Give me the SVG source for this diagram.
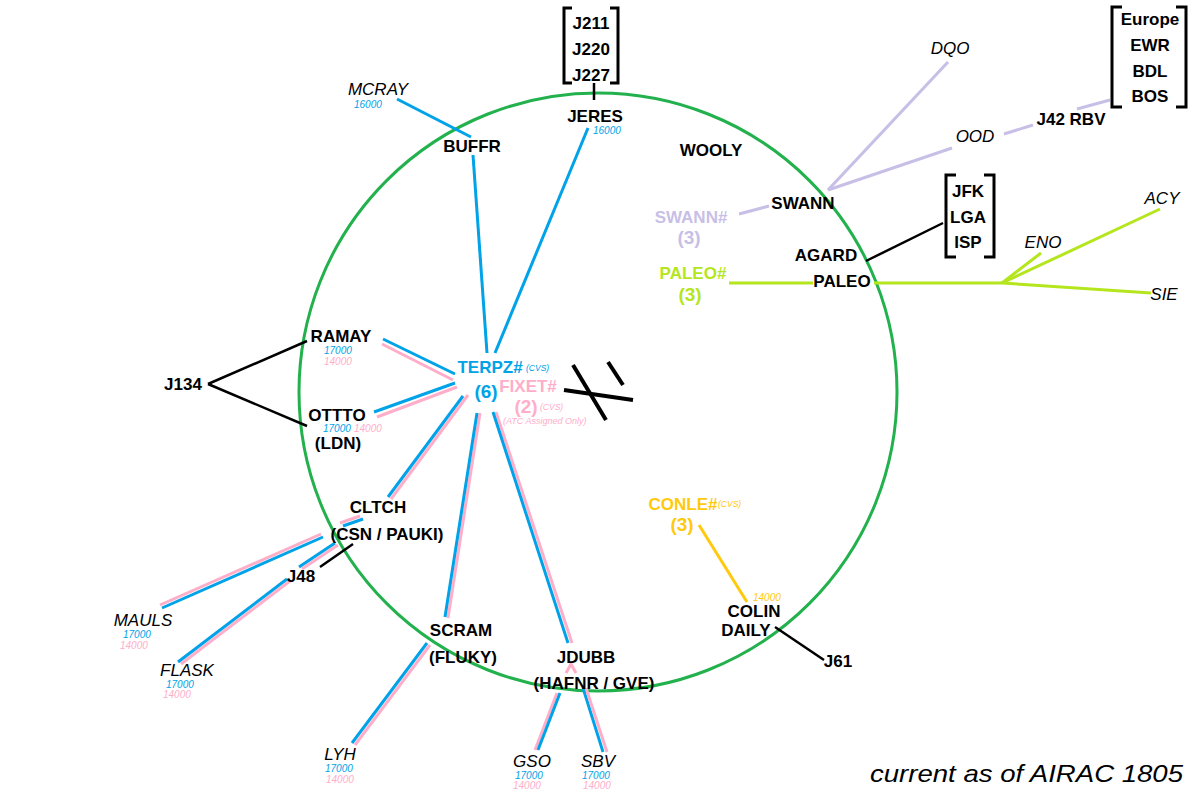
<svg xmlns="http://www.w3.org/2000/svg" width="1200" height="800" viewBox="0 0 1200 800">
<style>
text{font-family:"Liberation Sans",Arial,sans-serif}
.n{font-size:17px;font-weight:bold;fill:#000;text-anchor:middle}
.i{font-size:17px;font-style:italic;fill:#000;text-anchor:middle}
.s{font-size:10px;font-style:italic}
.sb{fill:#00a2e8}.sp{fill:#ffaec9}.sg{fill:#ffc90e}
.b{stroke:#00a2e8;stroke-width:3;fill:none}
.p{stroke:#ffaec9;stroke-width:3;fill:none}
.lv{stroke:#c8bfe7;stroke-width:3;fill:none}
.lm{stroke:#b5e61d;stroke-width:3;fill:none}
.k{stroke:#000;stroke-width:2.5;fill:none}
.br{stroke:#000;stroke-width:3;fill:none}
</style>
<rect width="1200" height="800" fill="#fff"/>
<circle id="ring" cx="598" cy="392" r="299" fill="none" stroke="#22b14c" stroke-width="3"/>
<g id="connectors">
<line class="b" x1="397" y1="99" x2="471" y2="137"/>
<line class="b" x1="473" y1="155" x2="487" y2="353"/>
<line class="b" x1="588" y1="128" x2="495" y2="353"/>
<line class="p" x1="382" y1="344" x2="453" y2="380"/>
<line class="b" x1="383" y1="339" x2="455" y2="374"/>
<line class="p" x1="377" y1="417" x2="457" y2="387"/>
<line class="b" x1="374" y1="412" x2="455" y2="383"/>
<line class="p" x1="391" y1="499" x2="468" y2="395"/>
<line class="b" x1="388" y1="497" x2="463" y2="396"/>
<line class="p" x1="448" y1="618" x2="480" y2="413"/>
<line class="b" x1="445" y1="617" x2="477" y2="413"/>
<line class="p" x1="496" y1="412" x2="572" y2="643"/>
<line class="b" x1="493" y1="412" x2="568" y2="643"/>
<line class="p" x1="160" y1="605" x2="321" y2="534"/>
<line class="b" x1="162" y1="608" x2="323" y2="537"/>
<line class="p" x1="340" y1="523" x2="360" y2="516"/>
<line class="b" x1="343" y1="526" x2="363" y2="519"/>
<line class="p" x1="181" y1="664" x2="290" y2="581"/>
<line class="b" x1="178" y1="662" x2="287" y2="579"/>
<line class="p" x1="302" y1="569" x2="338" y2="545"/>
<line class="b" x1="299" y1="567" x2="335" y2="543"/>
<line class="p" x1="355" y1="745" x2="430" y2="645"/>
<line class="b" x1="352" y1="743" x2="427" y2="643"/>
<line class="p" x1="535" y1="750" x2="557" y2="693"/>
<line class="b" x1="538" y1="750" x2="560" y2="693"/>
<polyline class="p" points="566,673 571,664 576,673"/>
<line class="b" x1="583" y1="688" x2="603" y2="752"/>
<line class="p" x1="586" y1="688" x2="607" y2="752"/>
<line class="lv" x1="948" y1="62" x2="828" y2="190"/>
<line class="lv" x1="952" y1="148" x2="828" y2="190"/>
<line class="lv" x1="1004" y1="134" x2="1033" y2="125"/>
<line class="lv" x1="1077" y1="109" x2="1110" y2="100"/>
<line class="lv" x1="739" y1="214" x2="769" y2="206"/>
<line class="lm" x1="729" y1="283" x2="813" y2="283"/>
<line class="lm" x1="874" y1="283" x2="1002" y2="283"/>
<line class="lm" x1="1002" y1="283" x2="1160" y2="209"/>
<line class="lm" x1="1002" y1="283" x2="1041" y2="253"/>
<line class="lm" x1="1002" y1="283" x2="1151" y2="293"/>
<line stroke="#ffc90e" stroke-width="3" x1="699" y1="525" x2="747" y2="602"/>
<line class="k" x1="866" y1="261" x2="943" y2="223"/>
<line class="k" x1="208" y1="384" x2="307" y2="341"/>
<line class="k" x1="208" y1="384" x2="307" y2="426"/>
<line class="k" x1="320" y1="567" x2="353" y2="544"/>
<line class="k" x1="775" y1="627" x2="824" y2="660"/>
<line class="k" x1="594" y1="83" x2="594" y2="100"/>
<g stroke="#000" stroke-width="4" fill="none">
<line x1="573" y1="365" x2="606" y2="420"/>
<line x1="564" y1="390" x2="633" y2="400"/>
<line x1="608" y1="362" x2="623" y2="385"/>
</g>
</g>
<g id="bracket-jets">
<path class="br" d="M572,8 H564 V83 H572 M610,8 H618 V83 H610"/>
<text class="n" x="591" y="29">J211</text>
<text class="n" x="591" y="55">J220</text>
<text class="n" x="591" y="81">J227</text>
</g>
<g id="bracket-europe">
<path class="br" d="M1122,7 H1112 V107 H1122 M1176,7 H1186 V107 H1176"/>
<text class="n" x="1150" y="25">Europe</text>
<text class="n" x="1150" y="51">EWR</text>
<text class="n" x="1150" y="77">BDL</text>
<text class="n" x="1150" y="102">BOS</text>
</g>
<g id="bracket-ny">
<path class="br" d="M956,175 H946 V257 H956 M984,175 H994 V257 H984"/>
<text class="n" x="968" y="197">JFK</text>
<text class="n" x="968" y="223">LGA</text>
<text class="n" x="968" y="248">ISP</text>
</g>
<g id="mcray"><text class="i" x="378" y="95">MCRAY</text><text class="s sb" x="354" y="108">16000</text></g>
<g id="buffr"><text class="n" x="472" y="152">BUFFR</text></g>
<g id="jeres"><text class="n" x="595" y="122">JERES</text><text class="s sb" x="593" y="134">16000</text></g>
<g id="wooly"><text class="n" x="711" y="156">WOOLY</text></g>
<g id="dqo"><text class="i" x="950" y="54">DQO</text></g>
<g id="ood"><text class="i" x="975" y="142">OOD</text></g>
<g id="j42"><text class="n" x="1071" y="125">J42 RBV</text></g>
<g id="swann"><text class="n" x="803" y="209">SWANN</text></g>
<g id="swann-star"><text class="n" x="691" y="223" style="fill:#c8bfe7">SWANN#</text><text class="n" x="689" y="244" style="fill:#c8bfe7;font-size:19px">(3)</text></g>
<g id="agard"><text class="n" x="826" y="261">AGARD</text></g>
<g id="paleo"><text class="n" x="842" y="287">PALEO</text></g>
<g id="paleo-star"><text class="n" x="693" y="279" style="fill:#b5e61d">PALEO#</text><text class="n" x="690" y="301" style="fill:#b5e61d;font-size:19px">(3)</text></g>
<g id="acy"><text class="i" x="1162" y="204">ACY</text></g>
<g id="eno"><text class="i" x="1043" y="248">ENO</text></g>
<g id="sie"><text class="i" x="1164" y="300">SIE</text></g>
<g id="ramay"><text class="n" x="341" y="342">RAMAY</text><text class="s sb" x="324" y="354">17000</text><text class="s sp" x="324" y="365">14000</text></g>
<g id="j134"><text class="n" x="183" y="390">J134</text></g>
<g id="otto"><text class="n" x="337" y="421">OTTTO</text><text class="s sb" x="323" y="432">17000</text><text class="s sp" x="354" y="432">14000</text><text class="n" x="338" y="449">(LDN)</text></g>
<g id="terpz"><text class="n" x="490" y="373" style="fill:#00a2e8">TERPZ#</text><text class="s sb" x="526" y="371" style="font-size:8.5px">(CVS)</text><text class="n" x="486" y="398" style="fill:#00a2e8;font-size:19px">(6)</text></g>
<g id="fixet"><text class="n" x="528" y="392" style="fill:#ffaec9">FIXET#</text><text class="n" x="526" y="413" style="fill:#ffaec9;font-size:19px">(2)</text><text class="s sp" x="540" y="410" style="font-size:8.5px">(CVS)</text><text class="s sp" x="503" y="424" style="font-size:9px">(ATC Assigned Only)</text></g>
<g id="cltch"><text class="n" x="378" y="513">CLTCH</text><text class="n" x="387" y="540">(CSN / PAUKI)</text></g>
<g id="j48"><text class="n" x="301" y="582">J48</text></g>
<g id="mauls"><text class="i" x="143" y="626">MAULS</text><text class="s sb" x="123" y="638">17000</text><text class="s sp" x="120" y="649">14000</text></g>
<g id="flask"><text class="i" x="187" y="676">FLASK</text><text class="s sb" x="166" y="688">17000</text><text class="s sp" x="163" y="698">14000</text></g>
<g id="scram"><text class="n" x="461" y="636">SCRAM</text><text class="n" x="463" y="663">(FLUKY)</text></g>
<g id="lyh"><text class="i" x="340" y="760">LYH</text><text class="s sb" x="325" y="772">17000</text><text class="s sp" x="326" y="783">14000</text></g>
<g id="jdubb"><text class="n" x="586" y="663">JDUBB</text><text class="n" x="594" y="689">(HAFNR / GVE)</text></g>
<g id="gso"><text class="i" x="532" y="767">GSO</text><text class="s sb" x="515" y="779">17000</text><text class="s sp" x="513" y="789">14000</text></g>
<g id="sbv"><text class="i" x="598" y="767">SBV</text><text class="s sb" x="582" y="779">17000</text><text class="s sp" x="583" y="789">14000</text></g>
<g id="conle"><text class="n" x="683" y="510" style="fill:#ffc90e">CONLE#</text><text class="s sg" x="718" y="507" style="font-size:8.5px">(CVS)</text><text class="n" x="682" y="531" style="fill:#ffc90e;font-size:19px">(3)</text></g>
<g id="colin"><text class="s sg" x="753" y="601">14000</text><text class="n" x="754" y="617">COLIN</text><text class="n" x="746" y="636">DAILY</text></g>
<g id="j61"><text class="n" x="838" y="667">J61</text></g>
<text x="870" y="782" style="font-size:24px;font-style:italic" textLength="313" lengthAdjust="spacingAndGlyphs">current as of AIRAC 1805</text>
</svg>
